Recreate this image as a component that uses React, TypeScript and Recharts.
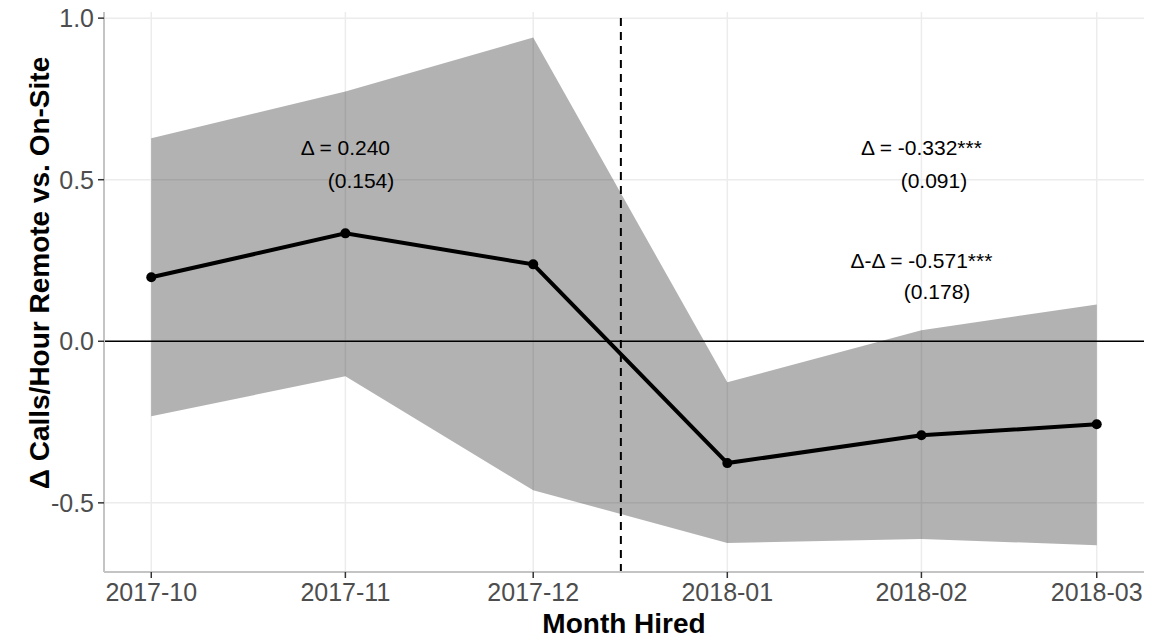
import React from 'react';
import {
  ComposedChart, Area, Line, XAxis, YAxis, CartesianGrid, ReferenceLine, ReferenceDot, Label,
} from 'recharts';

// days since 2017-10-01 for each hiring month
const monthDays = [0, 31, 61, 92, 123, 151];
const monthLabels = ['2017-10', '2017-11', '2017-12', '2018-01', '2018-02', '2018-03'];
const estimates = [0.198, 0.334, 0.238, -0.377, -0.291, -0.257];
const lowerCI = [-0.232, -0.108, -0.461, -0.624, -0.612, -0.631];
const upperCI = [0.628, 0.773, 0.94, -0.127, 0.034, 0.114];
const yTicks = [-0.5, 0, 0.5, 1.0];
const cutoffDay = 75;

const xDomain = [-7.55, 158.55];
const yDomain = [-0.714, 1.019];

const notes = [
  { day: 31, y: 0.6, text: 'Δ = 0.240' },
  { day: 33.5, y: 0.498, text: '(0.154)' },
  { day: 123, y: 0.6, text: 'Δ = -0.332***' },
  { day: 125, y: 0.498, text: '(0.091)' },
  { day: 123, y: 0.25, text: 'Δ-Δ = -0.571***' },
  { day: 125.5, y: 0.155, text: '(0.178)' },
];

const rows = monthDays.map((d, i) => ({
  day: d,
  est: estimates[i],
  band: [lowerCI[i], upperCI[i]],
}));

const FONT = '"Liberation Sans", Arial, Helvetica, sans-serif';

// map a value onto the plot area using the axis scale when available
function toPixel(axis: any, v: number, lo: number, hi: number, start: number, size: number, flip: boolean) {
  const s = axis && axis.scale;
  if (typeof s === 'function') return s(v);
  if (s && typeof s.map === 'function') return s.map(v);
  const f = (v - lo) / (hi - lo);
  return flip ? start + (1 - f) * size : start + f * size;
}

export default function App() {
  return (
    <div style={{ width: 1151, height: 640, fontFamily: FONT }}>
      <style>{'body{margin:0}'}</style>
      <ComposedChart width={1151} height={640} data={rows} margin={{ top: 12, right: 7, bottom: 8, left: 8 }}>
        {/* grid only at the tick values, no panel border */}
        <CartesianGrid
          stroke="#ececec"
          strokeWidth={1.5}
          horizontalCoordinatesGenerator={({ yAxis, offset }: any) =>
            yTicks.map((t) => toPixel(yAxis, t, yDomain[0], yDomain[1], offset.top, offset.height, true))}
          verticalCoordinatesGenerator={({ xAxis, offset }: any) =>
            monthDays.map((d) => toPixel(xAxis, d, xDomain[0], xDomain[1], offset.left, offset.width, false))}
        />
        <XAxis
          type="number"
          dataKey="day"
          domain={xDomain}
          ticks={monthDays}
          allowDataOverflow
          tickFormatter={(v: number) => monthLabels[monthDays.indexOf(v)]}
          height={60}
          tick={{ fontSize: 25, fill: '#4d4d4d', fontFamily: FONT }}
          tickSize={6}
          tickMargin={5}
          tickLine={{ stroke: '#333333', strokeWidth: 1.5 }}
          axisLine={{ stroke: '#c4c4c4', strokeWidth: 2 }}
        >
          <Label
            content={({ viewBox }: any) => (
              <text x={viewBox.x + viewBox.width / 2} y={viewBox.y + 61} textAnchor="middle"
                fontSize={28} fontWeight="bold" fill="#000" fontFamily={FONT}>Month Hired</text>
            )}
          />
        </XAxis>
        <YAxis
          type="number"
          domain={yDomain}
          ticks={yTicks}
          allowDataOverflow
          tickFormatter={(v: number) => v.toFixed(1)}
          width={96}
          tick={{ fontSize: 25, fill: '#4d4d4d', fontFamily: FONT }}
          tickSize={6}
          tickMargin={4}
          tickLine={{ stroke: '#333333', strokeWidth: 1.5 }}
          axisLine={{ stroke: '#c4c4c4', strokeWidth: 2 }}
        >
          <Label
            content={() => (
              <text x={49} y={273} transform="rotate(-90 49 273)" textAnchor="middle"
                fontSize={28} fontWeight="bold" fill="#000" fontFamily={FONT}>Δ Calls/Hour Remote vs. On-Site</text>
            )}
          />
        </YAxis>
        <Area
          type="linear"
          dataKey="band"
          fill="#000"
          fillOpacity={0.3}
          stroke="none"
          isAnimationActive={false}
          activeDot={false}
        />
        <ReferenceLine y={0} stroke="#000" strokeWidth={1.5} />
        <ReferenceLine x={cutoffDay} stroke="#000" strokeWidth={2} strokeDasharray="8 6" />
        <Line
          type="linear"
          dataKey="est"
          stroke="#000"
          strokeWidth={4}
          dot={{ r: 5, fill: '#000', stroke: '#000', strokeWidth: 0 }}
          activeDot={false}
          isAnimationActive={false}
        />
        {notes.map((n) => (
          <ReferenceDot
            key={n.text}
            x={n.day}
            y={n.y}
            r={0}
            stroke="none"
            label={{ value: n.text, position: 'center', fontSize: 21, fill: '#000', fontFamily: FONT }}
          />
        ))}
      </ComposedChart>
    </div>
  );
}
